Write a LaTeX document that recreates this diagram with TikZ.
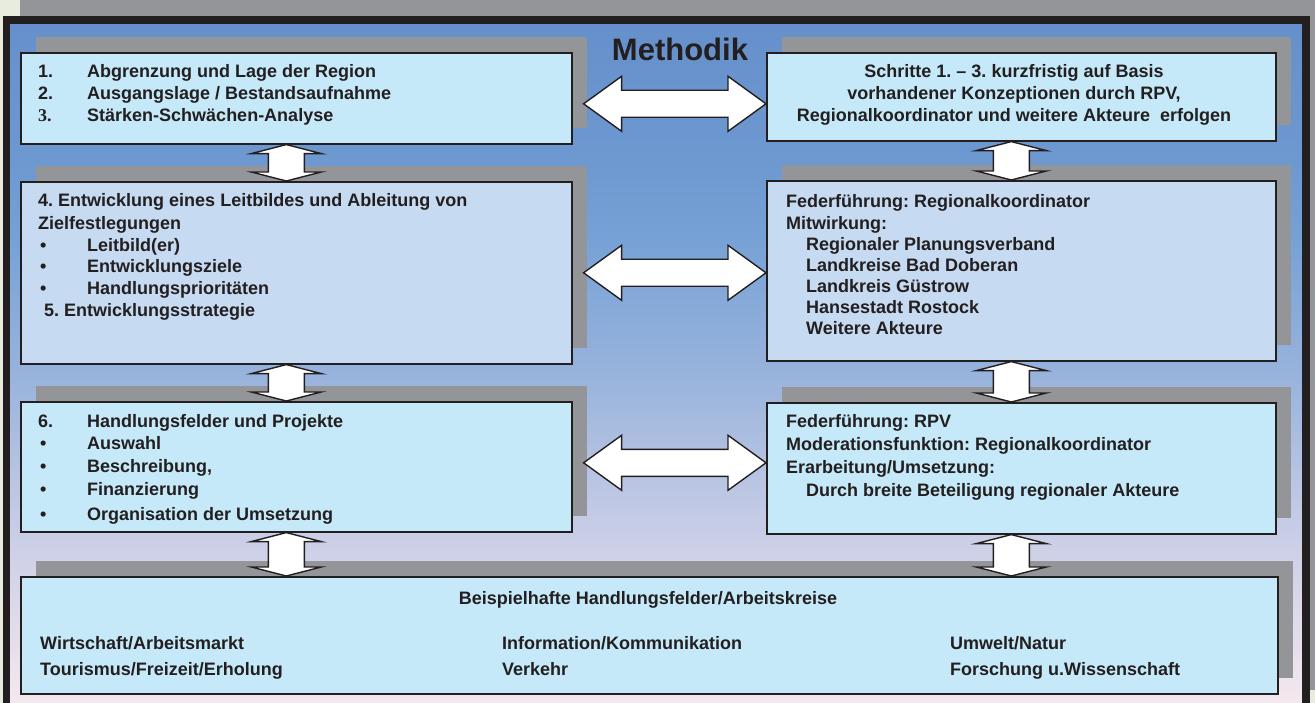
\documentclass[tikz,border=0pt]{standalone}
\usepackage{fontspec}
\setmainfont{Liberation Sans}
\newfontfamily\nrserif{Liberation Serif}
\usetikzlibrary{calc,shadows}
\frenchspacing

\definecolor{pagebg}{HTML}{E8ECDF}
\definecolor{shadowgray}{HTML}{939598}
\definecolor{framedark}{HTML}{231F20}
\definecolor{boxcyan}{HTML}{C6E9F9}
\definecolor{boxblue}{HTML}{C6DAF1}
\definecolor{bga}{HTML}{6690CB}
\definecolor{bgb}{HTML}{6C97CF}
\definecolor{bgc}{HTML}{74A0D5}
\definecolor{bgd}{HTML}{98B3DC}
\definecolor{bge}{HTML}{C8CDE6}
\definecolor{bgf}{HTML}{F4E8EE}

\pgfdeclareverticalshading{methodbg}{100bp}{color(0bp)=(bgf); color(25.7bp)=(bgf);
  color(38.1bp)=(bge); color(49.4bp)=(bgd); color(60bp)=(bgc); color(65.8bp)=(bgb);
  color(75bp)=(bga); color(100bp)=(bga)}

\newcommand\nr[1]{\makebox[49pt][l]{#1}}
% double arrow between two boxes, left/right tips
\newcommand\twowayh[2]{%
  \draw[twoway] let \p1=(#1), \p2=(#2) in
    (\x1,\y2) -- ++(38pt,27.5pt) -- ++(0pt,-14pt) -- (\x2-38pt,\y2+13.5pt) -- ++(0pt,14pt)
    -- (\x2,\y2) -- ++(-38pt,-27.5pt) -- ++(0pt,14pt) -- (\x1+38pt,\y2-13.5pt) -- ++(0pt,-14pt) -- cycle;}
% double arrow between two boxes, top/bottom tips
\newcommand\twowayv[2]{%
  \draw[twoway] let \p1=(#1), \p2=(#2) in
    (\x1,\y1) -- ++(35pt,-9pt) -- ++(-17pt,0pt) -- (\x1+18pt,\y2+9pt) -- ++(17pt,0pt)
    -- (\x1,\y2) -- ++(-35pt,9pt) -- ++(17pt,0pt) -- (\x1-18pt,\y1-9pt) -- ++(-17pt,0pt) -- cycle;}

\begin{document}
\begin{tikzpicture}[x=1pt,y=-1pt,
  box/.style={draw=framedark,line width=1.6pt,fill=boxcyan,inner sep=0pt,anchor=north west,
    drop shadow={shadow xshift=15pt,shadow yshift=16pt,fill=shadowgray,draw=none,opacity=1}},
  txt/.style={text=framedark,inner sep=0pt,align=left,anchor=base west,
    font=\bfseries\fontsize{18}{21.7}\selectfont},
  twoway/.style={draw=framedark,line width=1.4pt,fill=white,line join=miter}]
\useasboundingbox (0,0) rectangle (1315,703);
\fill[pagebg] (0,0) rectangle (1315,703);
\fill[shadowgray] (20,0) rectangle (1322,690);
\shadedraw[shading=methodbg,draw=framedark,line width=7.5pt] (6.5,20) rectangle (1306,712);

\node[text=framedark,inner sep=0pt,anchor=base,font=\bfseries\fontsize{31}{31}\selectfont]
  (title) at (680,61) {Methodik};

% boxes
\node[box,minimum width=551pt,minimum height=91pt] (b1) at (20,52) {};
\node[box,minimum width=509pt,minimum height=88pt] (b2) at (766,52) {};
\node[box,fill=boxblue,minimum width=551pt,minimum height=182pt] (b3) at (20,181) {};
\node[box,fill=boxblue,minimum width=509pt,minimum height=180pt] (b4) at (766,180) {};
\node[box,minimum width=551pt,minimum height=130pt] (b5) at (20,401) {};
\node[box,minimum width=509pt,minimum height=131pt] (b6) at (766,402) {};
\node[box,minimum width=1257pt,minimum height=117pt] (b7) at (20,576) {};

% texts (base = last line)
\node[txt] (t1) at (38,121.4) {\nr{1.}Abgrenzung und Lage der Region\\
  \nr{2.}Ausgangslage / Bestandsaufnahme\\
  \nr{{\nrserif 3.}}Stärken-Schwächen-Analyse};
\node[txt,align=center,anchor=base] (t2) at (1014,121.4) {Schritte 1. – 3. kurzfristig auf Basis\\
  vorhandener Konzeptionen durch RPV,\\
  Regionalkoordinator und weitere Akteure\ \ erfolgen};
\node[txt,font=\bfseries\fontsize{18}{22}\selectfont] (t3) at (38,317)
  {4. Entwicklung eines Leitbildes und Ableitung von\\
  Zielfestlegungen\\
  \nr{\hspace{2pt}\textbullet}Leitbild(er)\\
  \nr{\hspace{2pt}\textbullet}Entwicklungsziele\\
  \nr{\hspace{2pt}\textbullet}Handlungsprioritäten\\
  \hspace{6pt}5. Entwicklungsstrategie};
\node[txt,font=\bfseries\fontsize{18}{21.1}\selectfont] (t4) at (786,334.6)
  {Federführung: Regionalkoordinator\\
  Mitwirkung:\\
  \hspace{20pt}Regionaler Planungsverband\\
  \hspace{20pt}Landkreise Bad Doberan\\
  \hspace{20pt}Landkreis Güstrow\\
  \hspace{20pt}Hansestadt Rostock\\
  \hspace{20pt}Weitere Akteure};
\node[txt,font=\bfseries\fontsize{18}{22.7}\selectfont] (t5) at (38,520.3)
  {\nr{6.}Handlungsfelder und Projekte\\
  \nr{\hspace{2pt}\textbullet}Auswahl\\
  \nr{\hspace{2pt}\textbullet}Beschreibung,\\
  \nr{\hspace{2pt}\textbullet}Finanzierung\\[2.5pt]
  \nr{\hspace{2pt}\textbullet}Organisation der Umsetzung};
\node[txt,font=\bfseries\fontsize{18}{23}\selectfont] (t6) at (786,496)
  {Federführung: RPV\\
  Moderationsfunktion: Regionalkoordinator\\
  Erarbeitung/Umsetzung:\\
  \hspace{20pt}Durch breite Beteiligung regionaler Akteure};
\node[txt,anchor=base] (t7) at (648,604) {Beispielhafte Handlungsfelder/Arbeitskreise};
\node[txt,font=\bfseries\fontsize{18}{26}\selectfont] (c1) at (40,675)
  {Wirtschaft/Arbeitsmarkt\\Tourismus/Freizeit/Erholung};
\node[txt,font=\bfseries\fontsize{18}{26}\selectfont] (c2) at (502,675)
  {Information/Kommunikation\\Verkehr};
\node[txt,font=\bfseries\fontsize{18}{26}\selectfont] (c3) at (950,675)
  {Umwelt/Natur\\Forschung u.Wissenschaft};

% arrows
\twowayh{[xshift=11pt]b1.east}{[yshift=-7pt]b2.west}
\twowayh{[xshift=11pt]b3.east}{[yshift=-2pt]b4.west}
\twowayh{[xshift=11pt]b5.east}{[yshift=5.5pt]b6.west}
\twowayv{[xshift=-10pt]b1.south}{b3.north}
\twowayv{[xshift=-10pt]b3.south}{b5.north}
\twowayv{[xshift=-10pt]b5.south}{b7.north -| b5.south}
\twowayv{[xshift=-10pt]b2.south}{b4.north}
\twowayv{[xshift=-10pt]b4.south}{b6.north}
\twowayv{[xshift=-10pt]b6.south}{b7.north -| b6.south}
\end{tikzpicture}
\end{document}
